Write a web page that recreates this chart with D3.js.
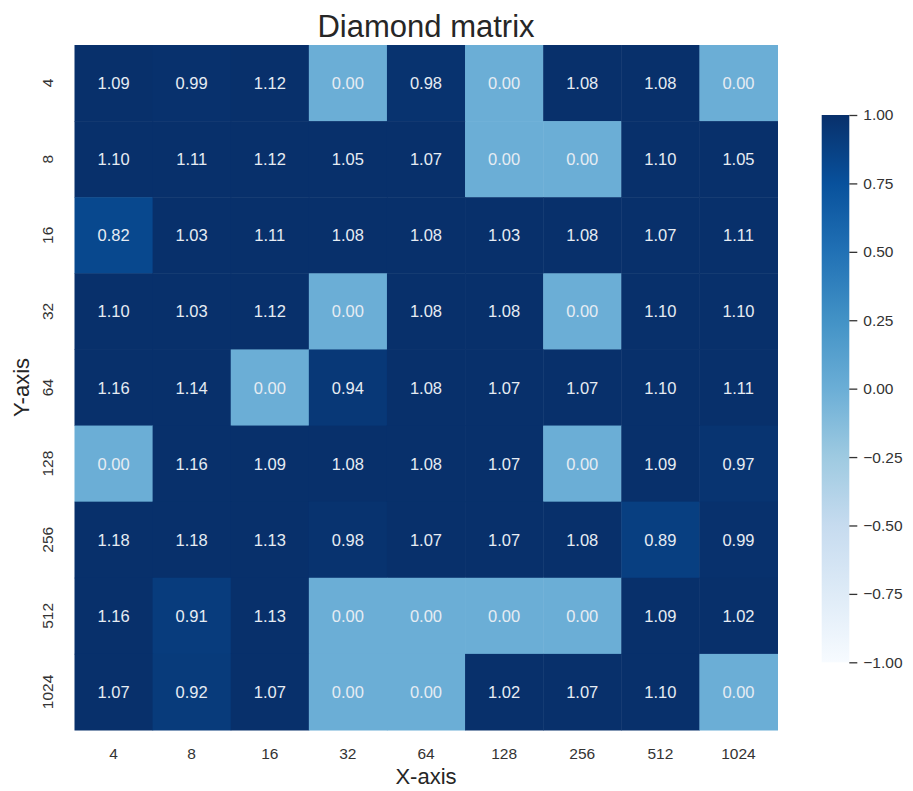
<!DOCTYPE html>
<html><head><meta charset="utf-8">
<script src="https://cdn.jsdelivr.net/npm/d3@7"></script>
<style>body{margin:0;background:#fff;} text{font-family:"Liberation Sans",Arial,sans-serif;}</style>
</head><body><svg id="c" width="913" height="791"></svg>
<script>
const xLabels = ["4","8","16","32","64","128","256","512","1024"];
const yLabels = ["4","8","16","32","64","128","256","512","1024"];
const values = [
 [1.09,0.99,1.12,0.00,0.98,0.00,1.08,1.08,0.00],
 [1.10,1.11,1.12,1.05,1.07,0.00,0.00,1.10,1.05],
 [0.82,1.03,1.11,1.08,1.08,1.03,1.08,1.07,1.11],
 [1.10,1.03,1.12,0.00,1.08,1.08,0.00,1.10,1.10],
 [1.16,1.14,0.00,0.94,1.08,1.07,1.07,1.10,1.11],
 [0.00,1.16,1.09,1.08,1.08,1.07,0.00,1.09,0.97],
 [1.18,1.18,1.13,0.98,1.07,1.07,1.08,0.89,0.99],
 [1.16,0.91,1.13,0.00,0.00,0.00,0.00,1.09,1.02],
 [1.07,0.92,1.07,0.00,0.00,1.02,1.07,1.10,0.00]
];
const cbTicks = [1,0.75,0.5,0.25,0,-0.25,-0.5,-0.75,-1];
const blues = ["#f7fbff","#deebf7","#c6dbef","#9ecae1","#6baed6","#4292c6","#2171b5","#08519c","#08306b"];

const svg = d3.select("#c");
const L=74.5,R=777.5,T=45,B=730;
const x = d3.scaleBand().domain(xLabels).range([L,R]);
const y = d3.scaleBand().domain(yLabels).range([T,B]);
const color = d3.scaleLinear().domain(d3.range(9).map(i=>-1+i*0.25)).range(blues).interpolate(d3.interpolateRgb).clamp(true);

const cells=[];
values.forEach((row,i)=>row.forEach((v,j)=>cells.push({r:yLabels[i],c:xLabels[j],v})));
svg.append("g").selectAll("rect").data(cells).join("rect")
 .attr("x",d=>x(d.c)).attr("y",d=>y(d.r)).attr("width",x.bandwidth()+0.5).attr("height",y.bandwidth()+0.5)
 .attr("fill",d=>color(d.v));
svg.append("g").selectAll("text").data(cells).join("text")
 .attr("x",d=>x(d.c)+x.bandwidth()/2).attr("y",d=>y(d.r)+y.bandwidth()/2)
 .attr("text-anchor","middle").attr("dominant-baseline","central")
 .attr("font-size",16.5).attr("fill","#e6ecf3").text(d=>d.v.toFixed(2));

// tick labels
svg.append("g").selectAll("text").data(xLabels).join("text")
 .attr("x",d=>x(d)+x.bandwidth()/2).attr("y",753).attr("text-anchor","middle").attr("dominant-baseline","central")
 .attr("font-size",15.5).attr("fill","#333").text(d=>d);
svg.append("g").selectAll("text").data(yLabels).join("text")
 .attr("transform",d=>`translate(47,${y(d)+y.bandwidth()/2}) rotate(-90)`)
 .attr("text-anchor","middle").attr("dominant-baseline","central")
 .attr("font-size",15.5).attr("fill","#333").text(d=>d);

svg.append("text").attr("x",(L+R)/2).attr("y",37).attr("text-anchor","middle")
 .attr("font-size",31).attr("fill","#262626").text("Diamond matrix");
svg.append("text").attr("x",(L+R)/2).attr("y",776).attr("text-anchor","middle").attr("dominant-baseline","central")
 .attr("font-size",22).attr("fill","#262626").text("X-axis");
svg.append("text").attr("transform",`translate(21,${(T+B)/2}) rotate(-90)`).attr("text-anchor","middle").attr("dominant-baseline","central")
 .attr("font-size",22).attr("fill","#262626").text("Y-axis");

// colorbar
const cbL=821.7,cbW=27.6,cbT=115,cbB=662.3;
const cy = d3.scaleLinear().domain([-1,1]).range([cbB,cbT]);
const defs=svg.append("defs");
const grad=defs.append("linearGradient").attr("id","g").attr("x1",0).attr("y1",1).attr("x2",0).attr("y2",0);
blues.forEach((c,i)=>grad.append("stop").attr("offset",i/8).attr("stop-color",c));
svg.append("rect").attr("x",cbL).attr("y",cbT).attr("width",cbW).attr("height",cbB-cbT).attr("fill","url(#g)");
const cb=svg.append("g").attr("transform",`translate(${cbL+cbW},0)`)
 .call(d3.axisRight(cy).tickValues(cbTicks).tickSize(8).tickPadding(6).tickFormat(d=>d3.format(".2f")(d).replace("-","\u2212")));
cb.select(".domain").remove();
cb.selectAll(".tick line").attr("stroke","#333").attr("stroke-width",1.3);
cb.selectAll(".tick text").attr("font-size",15.5).attr("fill","#333").attr("font-family","Liberation Sans, Arial, sans-serif");
</script></body></html>
